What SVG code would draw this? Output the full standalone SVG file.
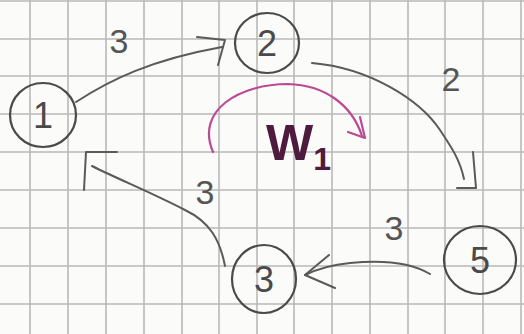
<svg xmlns="http://www.w3.org/2000/svg" width="524" height="334" viewBox="0 0 524 334">
<style>
.grid{stroke:#b9b9b9;stroke-width:1.6;fill:none}
.node ellipse{fill:none;stroke:#4a4a4a;stroke-width:2.2}
.node text{font-family:"Liberation Sans",sans-serif;font-size:36px;fill:#4a4a4a;text-anchor:middle}
.edge{fill:none;stroke:#5a5a5a;stroke-width:2;stroke-linecap:round;stroke-linejoin:round}
.lbl{font-family:"Liberation Sans",sans-serif;font-size:34px;fill:#555;text-anchor:middle}
.mag{fill:none;stroke:#bb4a93;stroke-width:2.2;stroke-linecap:round;stroke-linejoin:round}
</style>
<rect width="524" height="334" fill="#fbfbf9"/>
<g id="grid" class="grid">
<path d="M30 0V334M68 0V334M106 0V334M144 0V334M182 0V334M219 0V334M257 0V334M294 0V334M332 0V334M370 0V334M408 0V334M445 0V334M483 0V334M521 0V334"/>
<path d="M0 1H524M0 39H524M0 76H524M0 114H524M0 152H524M0 190H524M0 228H524M0 266H524M0 304H524"/>
</g>
<g id="connectors">
<g id="e12"><path class="edge" d="M76 102 C110 80, 150 60, 222 47"/><path class="edge" d="M197 37 L225 40 L218 65"/><text class="lbl" x="119" y="53">3</text></g>
<g id="e25"><path class="edge" d="M312 63 C370 68, 420 100, 440 130 C452 148, 460 160, 464 179"/><path class="edge" d="M473 152 L476 188 L457 188"/><text class="lbl" x="451" y="91">2</text></g>
<g id="e53"><path class="edge" d="M430 274 C410 262, 380 260, 350 263 C330 265, 315 270, 305 275"/><path class="edge" d="M329 255 L305 275 L335 288"/><text class="lbl" x="394" y="240">3</text></g>
<g id="e31"><path class="edge" d="M225 266 C220 240, 210 222, 185 210 C150 192, 120 180, 92 166"/><path class="edge" d="M117 152 L86 152 L84 190"/><text class="lbl" x="205" y="204">3</text></g>
<g id="w1"><path class="mag" d="M213 152 C195 110, 240 84, 288 84 C325 85, 352 105, 362 136"/><path class="mag" d="M360 117 L365 138 L348 132"/>
<text font-family="'Liberation Sans',sans-serif" font-size="50" font-weight="bold" fill="#4e1a3e" x="266" y="160">W<tspan font-size="32" dy="10">1</tspan></text></g>
</g>
<g id="n1" class="node"><ellipse cx="43" cy="115" rx="33" ry="32"/><text x="43" y="128">1</text></g>
<g id="n2" class="node"><ellipse cx="267" cy="43" rx="32" ry="30"/><text x="267" y="56">2</text></g>
<g id="n3" class="node"><ellipse cx="264" cy="279" rx="32" ry="34"/><text x="264" y="292">3</text></g>
<g id="n5" class="node"><ellipse cx="480" cy="260" rx="36" ry="34"/><text x="480" y="273">5</text></g>
</svg>
